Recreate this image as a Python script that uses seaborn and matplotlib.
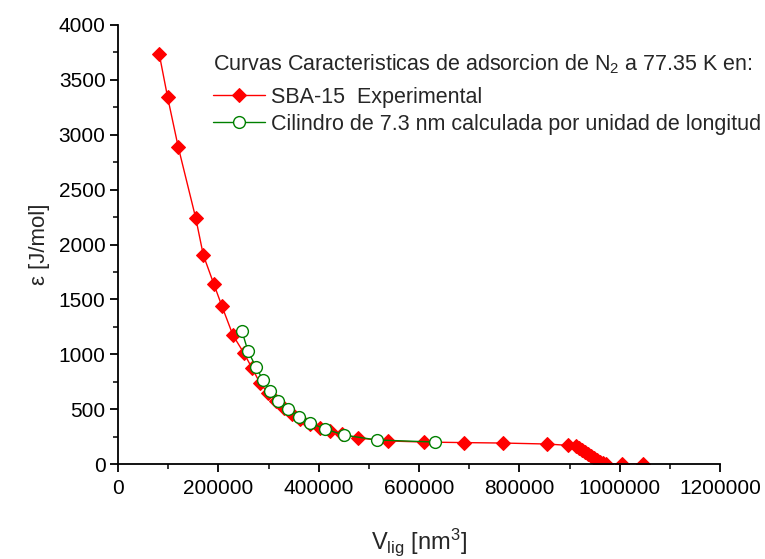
import matplotlib
matplotlib.use("Agg")
import matplotlib.pyplot as plt
from matplotlib.ticker import MultipleLocator, AutoMinorLocator
import seaborn as sns
import pandas as pd

# SBA-15 Experimental
exp_v = [82000, 99000, 120000, 155000, 170000, 191000, 207000, 229000, 251000, 267000,
         283000, 299000, 315000, 331000, 347000, 363000, 383000, 403000, 423000, 446000,
         478000, 538000, 610000, 690000, 767000, 855000, 897000, 912000, 918000, 924000,
         930000, 936000, 942000, 948000, 954000, 960000, 966000, 972000, 1005000, 1046000]
exp_e = [3740, 3340, 2890, 2240, 1905, 1640, 1440, 1175, 1010, 875,
         738, 647, 574, 510, 456, 410, 364, 328, 301, 273,
         237, 210, 200, 195, 191, 182, 170, 160, 145, 127,
         109, 91, 73, 55, 37, 22, 10, 2, 0, 0]

# Cilindro de 7.3 nm
cyl_v = [247000, 259000, 275000, 289000, 303000, 319000, 339000, 361000, 383000,
         413000, 450000, 516000, 632000]
cyl_e = [1212, 1030, 884, 765, 665, 574, 501, 428, 374, 319, 264, 219, 200]

sns.set_theme(style="ticks")
plt.rcParams['font.family'] = ['Liberation Sans', 'DejaVu Sans']
plt.rcParams['mathtext.fontset'] = 'custom'
plt.rcParams['mathtext.rm'] = 'Liberation Sans'
plt.rcParams['mathtext.it'] = 'Liberation Sans'

fig = plt.figure(figsize=(7.65, 5.59), dpi=100)
ax = fig.add_axes([118/765, 1-464/559, (720-118)/765, (464-25)/559])

df_exp = pd.DataFrame({"v": exp_v, "e": exp_e})
df_cyl = pd.DataFrame({"v": cyl_v, "e": cyl_e})

sns.lineplot(data=df_exp, x="v", y="e", ax=ax, sort=False, color="#FF0000",
             linewidth=1.0, marker="D", markersize=7, markeredgecolor="#FF0000",
             markerfacecolor="#FF0000", label="SBA-15  Experimental")
sns.lineplot(data=df_cyl, x="v", y="e", ax=ax, sort=False, color="#008000",
             linewidth=1.0, marker="o", markersize=8.5, markeredgecolor="#008000",
             markerfacecolor="white", markeredgewidth=1.0,
             label="Cilindro de 7.3 nm calculada por unidad de longitud")

ax.set_xlim(0, 1200000)
ax.set_ylim(0, 4000)
ax.xaxis.set_major_locator(MultipleLocator(200000))
ax.xaxis.set_minor_locator(AutoMinorLocator(2))
ax.yaxis.set_major_locator(MultipleLocator(500))
ax.yaxis.set_minor_locator(AutoMinorLocator(2))
ax.ticklabel_format(style='plain', axis='x')

for s in ["top", "right"]:
    ax.spines[s].set_visible(False)
for s in ["left", "bottom"]:
    ax.spines[s].set_linewidth(1.3)
    ax.spines[s].set_color("black")
ax.tick_params(which="major", direction="out", length=6, width=1.3, labelsize=15, colors="black", pad=3)
ax.tick_params(axis="x", which="major", pad=5)
ax.tick_params(which="minor", direction="out", length=3.5, width=1.1, colors="black")

ax.set_xlabel("V$_{\\mathregular{lig}}$ [nm$^{\\mathregular{3}}$]", fontsize=17, labelpad=20)
ax.set_ylabel("ε [J/mol]", fontsize=16, labelpad=6)

fig.text(213/765, 1-64/559, "Curvas Caracteristicas de adsorcion de N$_{\\mathregular{2}}$ a 77.35 K en:",
         fontsize=15.5, ha="left", va="center")

leg = ax.legend(loc="upper left", bbox_to_anchor=(0.158, (464-87)/439), frameon=False,
                fontsize=15.5, handlelength=2.4, handletextpad=0.3,
                labelspacing=0.27, borderaxespad=0, borderpad=0)

fig.savefig("out.png", dpi=100)
